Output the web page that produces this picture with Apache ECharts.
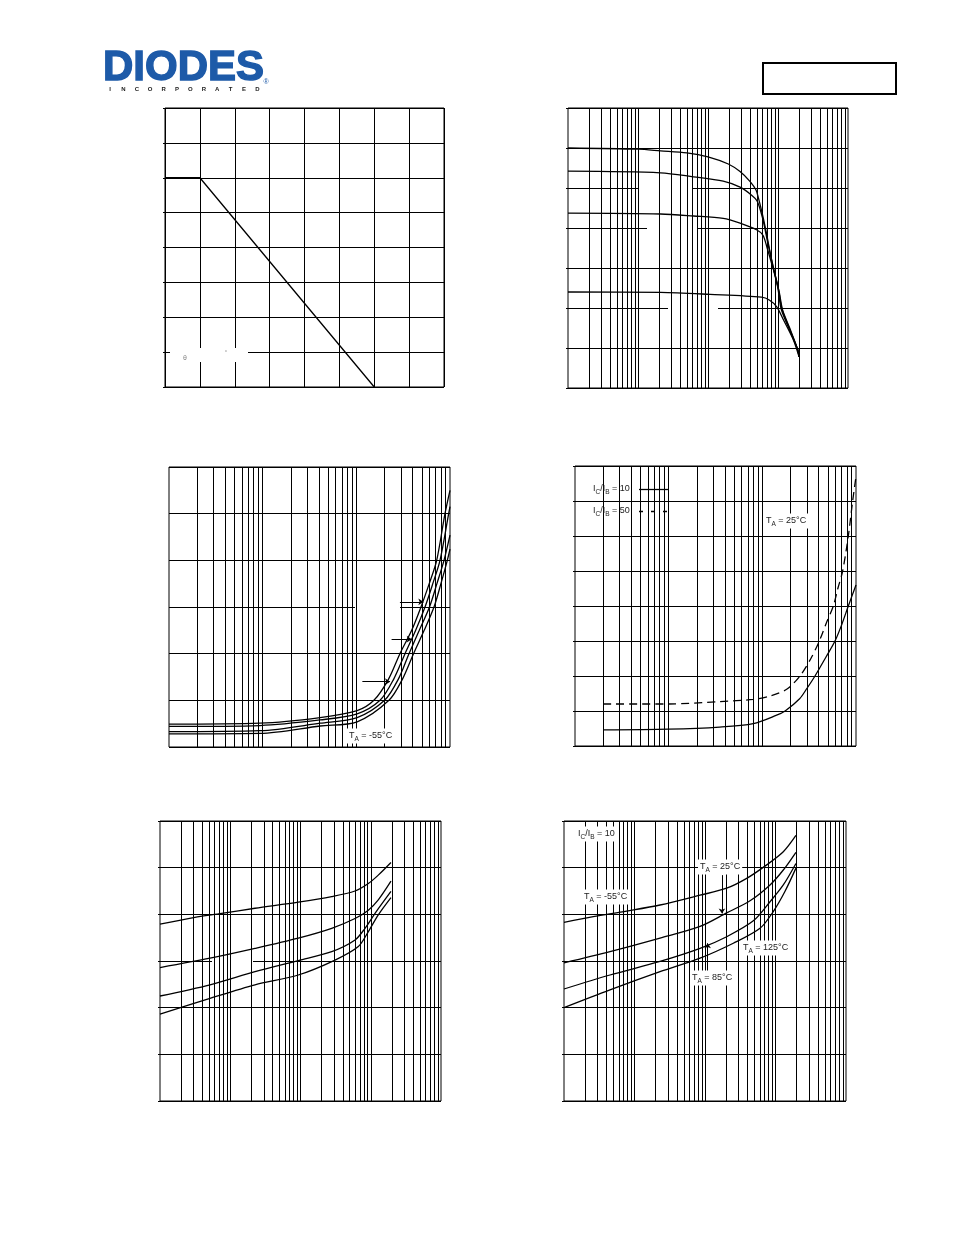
<!DOCTYPE html>
<html><head><meta charset="utf-8">
<script src="https://cdn.jsdelivr.net/npm/echarts@6/dist/echarts.min.js"></script>
<style>html,body{margin:0;padding:0;background:#fff;}#c{width:954px;height:1235px;}</style>
</head><body><div id="c"></div>
<script>
// ---------------- DATA ----------------
// Chart 1: power derating (Ta °C, Pd mW)
const deratingTemp = [0, 25, 150];
const deratingPower = [300, 300, 0];

// Chart 2: DC current gain vs collector current (IC mA, hFE)
const hfeA = [[0.1,600],[1,597],[2.1,593],[5,588],[10,578],[19.5,560],[28.7,541],[40,516],[48.5,495],[52,478],[58,445],[66,400],[76,345],[86,297],[100,248],[111,197],[140,153],[190,97],[200,78]];
const hfeB = [[0.1,542],[2.1,538],[6.2,528],[16.5,517],[28.7,502],[42,482],[50,468],[57,440],[63,410],[71,365],[80,325],[89,290],[102,245],[114,197],[143,152],[192,95],[200,78]];
const hfeC = [[0.1,437],[2.1,435],[6.2,430],[16.5,424],[28.7,412],[50,395],[61,382],[70,350],[80,315],[91,282],[104,240],[116,196],[146,151],[194,93],[200,78]];
const hfeD = [[0.1,240],[2.1,239],[10.7,234],[58,227],[75,220],[96,203],[120,170],[166,120],[200,78]];

// Chart 3: four temperature curves (IC mA, V)
const satA = [[1,0.49],[9.4,0.51],[41,0.63],[102,0.78],[154,1.0],[220,1.45],[292,2.0],[390,2.5],[490,3.0],[600,3.5],[721,4.0],[884,5.0],[1000,5.5]];
const satB = [[1,0.44],[9.4,0.46],[41,0.58],[102,0.71],[179,1.0],[250,1.45],[331,2.0],[430,2.5],[541,3.0],[655,3.5],[782,4.0],[968,5.0],[1000,5.15]];
const satC = [[1,0.33],[9.4,0.35],[41,0.51],[102,0.63],[200,1.0],[280,1.45],[365,2.0],[470,2.5],[604,3.0],[725,3.5],[863,4.0],[1000,4.54]];
const satD = [[1,0.28],[9.4,0.29],[41,0.45],[102,0.54],[223,1.0],[310,1.45],[408,2.0],[530,2.5],[675,3.0],[800,3.5],[936,4.0],[1000,4.24]];
const satArrows = [[[292,3.11],[519,3.11]],[[238,2.31],[390,2.31]],[[116,1.40],[229,1.40]]];

// Chart 4: IC/IB = 10 (solid) and IC/IB = 50 (dashed)
const ratio10 = [[2,0.46],[10,0.48],[35,0.54],[80,0.64],[142,0.88],[175,1.0],[250,1.35],[300,1.65],[365,2.0],[480,2.55],[597,3.0],[700,3.45],[828,4.0],[1000,4.6]];
const ratio50 = [[2,1.2],[10,1.2],[35,1.27],[80,1.33],[121,1.43],[182,1.62],[252,2.0],[330,2.5],[406,3.0],[480,3.5],[573,4.0],[640,4.5],[720,5.0],[828,6.0],[921,7.0],[1000,7.7]];

// Chart 5: four curves
const vA = [[0.1,3.79],[0.253,3.91],[0.755,4.02],[2.25,4.13],[9.3,4.26],[27.8,4.38],[59.7,4.5],[92.4,4.66],[128,4.84],[194,5.11]];
const vB = [[0.1,2.86],[0.515,3.06],[2.25,3.27],[9.3,3.49],[27.8,3.7],[59.7,3.91],[92.4,4.09],[128,4.31],[194,4.71]];
const vC = [[0.1,2.25],[0.515,2.49],[2.25,2.77],[9.3,3.01],[27.8,3.2],[59.7,3.45],[82.8,3.7],[115,4.02],[194,4.49]];
const vD = [[0.1,1.86],[0.515,2.2],[2.25,2.49],[9.3,2.7],[31,3.02],[66.5,3.31],[92.4,3.63],[128,3.99],[194,4.36]];

// Chart 6: IC/IB = 10 at four temperatures
const tM55 = [[0.1,3.83],[0.26,3.95],[0.775,4.07],[2.3,4.2],[8.5,4.41],[20.3,4.56],[39,4.77],[75,5.06],[129,5.34],[195,5.69]];
const t25 = [[0.1,2.96],[0.449,3.2],[2.3,3.49],[8.5,3.74],[20.3,4.03],[43.5,4.29],[83.6,4.63],[129,4.95],[195,5.33]];
const t85 = [[0.1,2.4],[0.449,2.7],[2.3,2.99],[8.5,3.27],[20.3,3.52],[48.5,3.86],[83.6,4.27],[129,4.63],[195,5.09]];
const t125 = [[0.1,2.0],[0.449,2.38],[2.3,2.77],[8.5,3.06],[25.2,3.38],[60.3,3.7],[93,4.06],[136,4.49],[195,4.99]];
const tArrows = [[[17.4,4.84],[17.4,4.02]],[[10.9,2.74],[10.9,3.38]]];

// Tick definitions
const mantissas = [1,2,3,4,5,6,7,8,9];
function logTicks(min, max){
  const out=[];
  for(let d=min; d<max; d=+(d*10).toPrecision(3)){
    for(const m of mantissas){ const v=+(m*d).toPrecision(3); if(v>min && v<max) out.push(v); }
  }
  return out;
}
const LOG4 = logTicks(0.1, 1000);
const LOG3 = logTicks(1, 1000);

// ---------------- LAYOUT ----------------
const grids = [
  {left:165, top:108, width:279, height:279},
  {left:568, top:108, width:280, height:280},
  {left:169, top:467, width:281, height:280},
  {left:575, top:466, width:281, height:280},
  {left:160, top:821, width:281, height:280},
  {left:564, top:821, width:282, height:280}
];
const masks = [
  [170,348,78,14],
  [657,127,42,16],[797,117,39,18],[638,182,54,18],[647,222,50,21],[668,302,50,15],
  [178,483,40,18],[355,593,45,18],[343,632,49,16],[326,674,37,16],
  [172,838,36,19],[260,882,40,16],[260,922,40,13],[212,958,41,12],[293,975,42,17]
];

const FONT = 'Liberation Sans, Arial, sans-serif';
const rich = {
  m:{fontSize:9, fontFamily:FONT, fill:'#222', lineHeight:13, verticalAlign:'middle'},
  s:{fontSize:6.5, fontFamily:FONT, fill:'#222', lineHeight:6, verticalAlign:'bottom'}
};
function label(x, y, text, bg){
  return {type:'text', x:x, y:y, z:10, silent:true,
    style:{text:text, rich:rich, align:'left', verticalAlign:'middle',
      backgroundColor: bg===false ? null : '#fff', padding:[1,2,1,2]}};
}
const TA = t => '{m|T}{s|A}{m| = ' + t + '°C}';
const ICIB = r => '{m|I}{s|C}{m|/I}{s|B}{m| = ' + r + '}';

const axisCommon = {axisLine:{show:false}, axisLabel:{show:false}, axisTick:{show:false}, splitLine:{show:false}};
const blackLine = {color:'#000', width:1, type:'solid'};
function yAxis(i, max, interval, ticks){
  return Object.assign({}, axisCommon, {type:'value', gridIndex:i, min:0, max:max, interval:interval,
    splitLine:{show:true, lineStyle:blackLine},
    axisTick:{show:ticks, length:2, inside:false, lineStyle:blackLine}});
}
function xLog(i, min, max){
  return Object.assign({}, axisCommon, {type:'log', logBase:10, gridIndex:i, min:min, max:max});
}

function gridLines(i, ticks){
  return {type:'line', xAxisIndex:i, yAxisIndex:i, data:[], z:1, silent:true, animation:false,
    markLine:{silent:true, animation:false, symbol:'none', label:{show:false}, emphasis:{disabled:true},
      lineStyle:blackLine, data:ticks.map(v=>({xAxis:v}))}};
}
function curve(i, pts, dash){
  return {type:'line', xAxisIndex:i, yAxisIndex:i, data:pts, showSymbol:false, symbol:'none',
    smooth:0.3, z:5, silent:true, animation:false,
    lineStyle:{color:'#000', width:1.3, type: dash || 'solid'}};
}
function arrows(i, list){
  return {type:'line', xAxisIndex:i, yAxisIndex:i, data:[], z:6, silent:true, animation:false,
    markLine:{silent:true, animation:false, symbol:['none','arrow'], symbolSize:5, label:{show:false},
      emphasis:{disabled:true}, lineStyle:blackLine,
      data:list.map(a=>[{coord:a[0]},{coord:a[1]}])}};
}

const graphics = [];
masks.forEach(m=>graphics.push({type:'rect', z:3, silent:true, shape:{x:m[0], y:m[1], width:m[2], height:m[3]}, style:{fill:'#fff'}}));
// logo
graphics.push({type:'text', x:103, y:68, z:10, silent:true, style:{text:'DIODES', fill:'#1d5aa8', stroke:'#1d5aa8', lineWidth:1.4, fontSize:42, fontWeight:'bold', fontFamily:FONT, align:'left', verticalAlign:'middle'}});
'INCORPORATED'.split('').forEach((ch,k)=>graphics.push({type:'text', x:110+k*13.4, y:89, z:10, silent:true, style:{text:ch, fill:'#222', fontSize:6, fontWeight:'bold', fontFamily:FONT, align:'center', verticalAlign:'middle'}}));
graphics.push({type:'text', x:266, y:82, z:10, silent:true, style:{text:'®', fill:'#1d5aa8', fontSize:7, fontFamily:FONT, align:'center', verticalAlign:'middle'}});
// part number box
graphics.push({type:'rect', z:10, silent:true, shape:{x:763, y:63, width:133, height:31}, style:{fill:'none', stroke:'#000', lineWidth:2}});
// chart 1 leftovers
graphics.push({type:'text', x:185, y:358, z:10, silent:true, style:{text:'θ', fill:'#888', fontSize:7, fontFamily:FONT, align:'center', verticalAlign:'middle'}});
graphics.push({type:'text', x:226, y:352, z:10, silent:true, style:{text:'°', fill:'#888', fontSize:6, fontFamily:FONT, align:'center', verticalAlign:'middle'}});
// chart 3
graphics.push(label(347, 736, TA('-55')));
// chart 4 legend
graphics.push({type:'rect', z:3, silent:true, shape:{x:590, y:483, width:82, height:11}, style:{fill:'#fff'}});
graphics.push({type:'rect', z:3, silent:true, shape:{x:590, y:505, width:82, height:11}, style:{fill:'#fff'}});
graphics.push(label(591, 489, ICIB('10'), false));
graphics.push(label(591, 511, ICIB('50'), false));
graphics.push({type:'line', z:10, silent:true, shape:{x1:639, y1:489.5, x2:669, y2:489.5}, style:{stroke:'#000', lineWidth:1.3}});
graphics.push({type:'line', z:10, silent:true, shape:{x1:639, y1:511.5, x2:669, y2:511.5}, style:{stroke:'#000', lineWidth:1.3, lineDash:[4,8]}});
graphics.push(label(764, 521, TA('25')));
// chart 6
graphics.push(label(576, 834, ICIB('10')));
graphics.push(label(698, 867, TA('25')));
graphics.push(label(582, 897, TA('-55')));
graphics.push(label(741, 948, TA('125')));
graphics.push(label(690, 978, TA('85')));

const option = {
  animation:false,
  backgroundColor:'#fff',
  grid: grids.map(g=>Object.assign({show:true, borderColor:'#000', borderWidth:1, backgroundColor:'transparent'}, g)),
  xAxis: [
    Object.assign({}, axisCommon, {type:'value', gridIndex:0, min:0, max:200, interval:25, splitLine:{show:true, lineStyle:blackLine}}),
    xLog(1, 0.1, 1000), xLog(2, 1, 1000), xLog(3, 1, 1000), xLog(4, 0.1, 1000), xLog(5, 0.1, 1000)
  ],
  yAxis: [yAxis(0,400,50,true), yAxis(1,700,100,true), yAxis(2,6,1,false), yAxis(3,8,1,true), yAxis(4,6,1,true), yAxis(5,6,1,true)],
  series: [
    Object.assign(curve(0, deratingTemp.map((t,k)=>[t, deratingPower[k]])), {smooth:false}),
    gridLines(1, LOG4), curve(1,hfeA), curve(1,hfeB), curve(1,hfeC), curve(1,hfeD),
    gridLines(2, LOG3), curve(2,satA), curve(2,satB), curve(2,satC), curve(2,satD), arrows(2, satArrows),
    gridLines(3, LOG3), curve(3,ratio10), curve(3,ratio50,[8,5]),
    gridLines(4, LOG4), curve(4,vA), curve(4,vB), curve(4,vC), curve(4,vD),
    gridLines(5, LOG4), curve(5,tM55), curve(5,t25), curve(5,t85), curve(5,t125), arrows(5, tArrows)
  ],
  graphic: {elements: graphics}
};
const chart = echarts.init(document.getElementById('c'), null, {renderer:'canvas', width:954, height:1235});
chart.setOption(option);
</script>
</body></html>
